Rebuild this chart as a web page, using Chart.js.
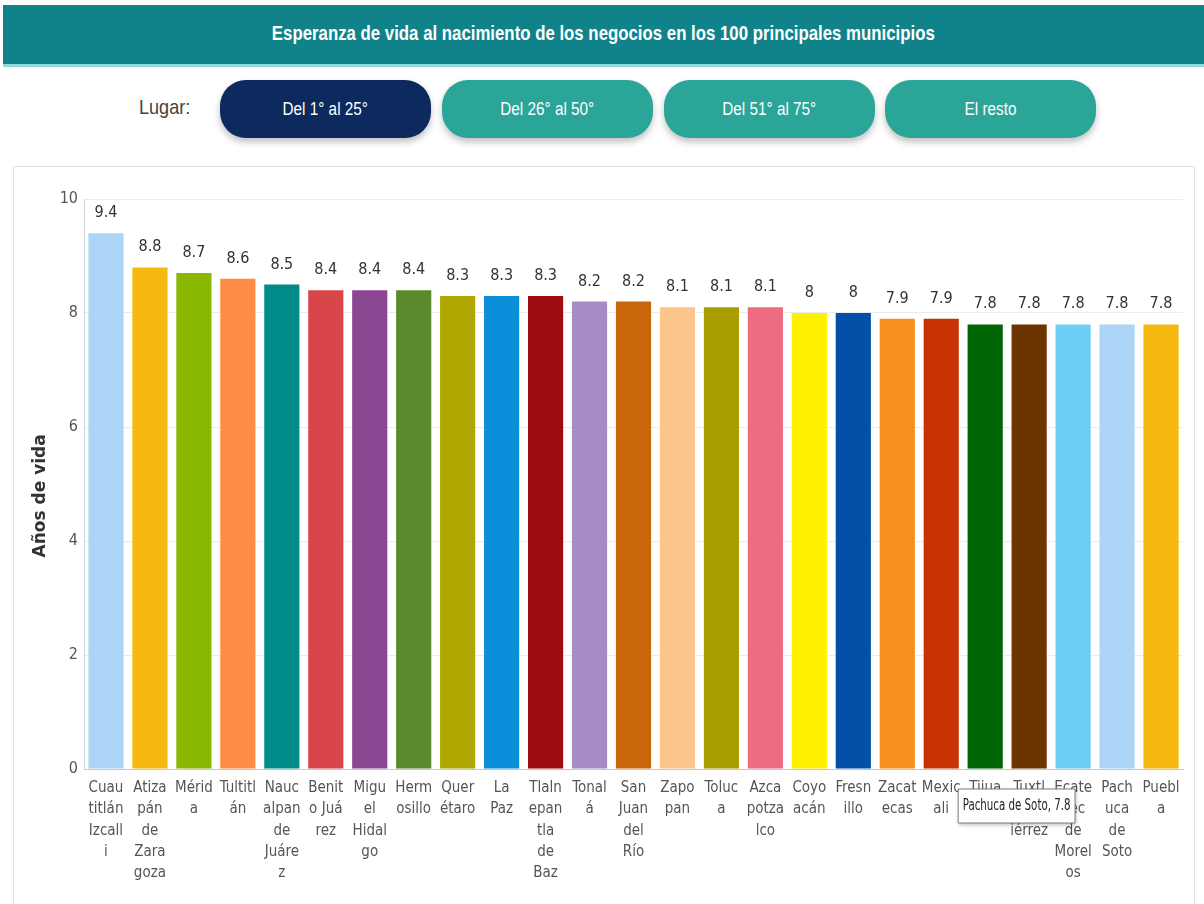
<!DOCTYPE html>
<html><head><meta charset="utf-8">
<script src="https://cdn.jsdelivr.net/npm/chart.js@4/dist/chart.umd.min.js"></script>
<style>
html,body{margin:0;padding:0;background:#fff;width:1204px;height:904px;overflow:hidden;}
#header{position:absolute;left:3px;top:5px;width:1201px;height:59px;background:#10838a;border-bottom:3px solid #93d8dc;color:#fff;text-align:center;line-height:56px;font-family:"Liberation Sans",sans-serif;font-size:21px;font-weight:bold;}
#header span{display:inline-block;transform:scaleX(0.8);transform-origin:center;white-space:nowrap;}
#lugar{position:absolute;left:139px;top:95px;font-family:"Liberation Sans",sans-serif;font-size:21px;color:#444;transform:scaleX(0.86);transform-origin:left center;}
.btn{position:absolute;top:80px;width:211px;height:58px;border-radius:26px;background:#2aa597;color:#fff;font-family:"Liberation Sans",sans-serif;font-size:18px;text-align:center;line-height:58px;box-shadow:0 4px 7px rgba(0,0,0,0.25);}
.btn span{display:inline-block;transform:scaleX(0.85);white-space:nowrap;}
.btn.active{background:#0c2a5d;}
#panel{position:absolute;left:13px;top:166px;width:1180px;height:760px;border:1px solid #e2e2e2;}
#wrap{position:absolute;left:0;top:0;width:1180px;height:742px;}
</style>
</head><body>
<div id="header"><span>Esperanza de vida al nacimiento de los negocios en los 100 principales municipios</span></div>
<div id="lugar">Lugar:</div>
<div class="btn active" style="left:220px"><span>Del 1° al 25°</span></div>
<div class="btn" style="left:442px"><span>Del 26° al 50°</span></div>
<div class="btn" style="left:664px"><span>Del 51° al 75°</span></div>
<div class="btn" style="left:885px"><span>El resto</span></div>
<div id="panel"><div id="wrap"><canvas id="c"></canvas></div></div>
<script>
const categories = [
  ["Cuau","titlán","Izcall","i"],
  ["Atiza","pán","de","Zara","goza"],
  ["Mérid","a"],
  ["Tultitl","án"],
  ["Nauc","alpan","de","Juáre","z"],
  ["Benit","o Juá","rez"],
  ["Migu","el","Hidal","go"],
  ["Herm","osillo"],
  ["Quer","étaro"],
  ["La","Paz"],
  ["Tlaln","epan","tla","de","Baz"],
  ["Tonal","á"],
  ["San","Juan","del","Río"],
  ["Zapo","pan"],
  ["Toluc","a"],
  ["Azca","potza","lco"],
  ["Coyo","acán"],
  ["Fresn","illo"],
  ["Zacat","ecas"],
  ["Mexic","ali"],
  ["Tijua","na"],
  ["Tuxtl","a Gut","iérrez"],
  ["Ecate","pec","de","Morel","os"],
  ["Pach","uca","de","Soto"],
  ["Puebl","a"]
];
const fullNames = ["Cuautitlán Izcalli","Atizapán de Zaragoza","Mérida","Tultitlán","Naucalpan de Juárez","Benito Juárez","Miguel Hidalgo","Hermosillo","Querétaro","La Paz","Tlalnepantla de Baz","Tonalá","San Juan del Río","Zapopan","Toluca","Azcapotzalco","Coyoacán","Fresnillo","Zacatecas","Mexicali","Tijuana","Tuxtla Gutiérrez","Ecatepec de Morelos","Pachuca de Soto","Puebla"];
const values = [9.4,8.8,8.7,8.6,8.5,8.4,8.4,8.4,8.3,8.3,8.3,8.2,8.2,8.1,8.1,8.1,8,8,7.9,7.9,7.8,7.8,7.8,7.8,7.8];
const barColors = ["#acd4f6","#f5b90f","#8ab700","#fe8c44","#008c88","#d9464a","#8c4792","#5a8a2b","#b0a800","#0b8fda","#9c0c10","#a68bc6","#c9650a","#fbc58b","#aa9d00","#ee6c82","#fff200","#0450a9","#f6901f","#c93202","#006605","#6b3400","#6ccef6","#acd4f6","#f5b90f"];
const yTicks = [0,2,4,6,8,10];
const highlighted = 23;

const FONT = '"DejaVu Sans Condensed","DejaVu Sans",sans-serif';

const valueLabels = {
  id: 'valueLabels',
  afterDatasetsDraw(chart) {
    const ctx = chart.ctx;
    const meta = chart.getDatasetMeta(0);
    ctx.save();
    ctx.font = '16px ' + FONT;
    ctx.fillStyle = '#333';
    ctx.textAlign = 'center';
    ctx.textBaseline = 'alphabetic';
    meta.data.forEach((bar, i) => {
      ctx.fillText(String(values[i]), bar.x, bar.y - 16);
    });
    ctx.restore();
  },
  beforeTooltipDraw(chart, args) {
    const tt = args.tooltip;
    const ctx = chart.ctx;
    const anchor = tt.x + tt.width;
    ctx.save();
    ctx.shadowColor = 'rgba(0,0,0,0.25)';
    ctx.shadowBlur = 4;
    ctx.shadowOffsetX = 1;
    ctx.shadowOffsetY = 2;
    ctx.fillStyle = '#fff';
    ctx.fillRect(tt.x + tt.width * 0.24, tt.y, tt.width * 0.76, tt.height);
    ctx.restore();
    ctx.save();
    ctx.translate(anchor, 0);
    ctx.scale(0.76, 1);
    ctx.translate(-anchor, 0);
  },
  afterTooltipDraw(chart) {
    chart.ctx.restore();
  }
};

Chart.Tooltip.positioners.belowAxis = function(items) {
  if (!items.length) return false;
  const el = items[0].element;
  const area = this.chart.chartArea;
  return { x: el.x - 42, y: area.bottom + 20, xAlign: 'right', yAlign: 'top' };
};

const chart = new Chart(document.getElementById('c'), {
  type: 'bar',
  data: {
    labels: categories,
    datasets: [{
      data: values,
      backgroundColor: barColors,
      borderWidth: 0,
      barPercentage: 0.8,
      categoryPercentage: 1.0
    }]
  },
  plugins: [valueLabels],
  options: {
    responsive: true,
    maintainAspectRatio: false,
    animation: false,
    events: [],
    layout: { padding: { left: 0, right: 11, top: 32, bottom: 0 } },
    plugins: {
      legend: { display: false },
      tooltip: {
        enabled: true,
        position: 'belowAxis',
        backgroundColor: '#ffffff',
        borderColor: '#6a6a6a',
        borderWidth: 1,
        cornerRadius: 0,
        caretSize: 0,
        caretPadding: 0,
        displayColors: false,
        bodyColor: '#222',
        bodyFont: { family: FONT, size: 15 },
        padding: { left: 6, right: 6, top: 8, bottom: 8 },
        callbacks: {
          title: () => '',
          label: (ctx) => fullNames[ctx.dataIndex] + ', ' + values[ctx.dataIndex]
        }
      }
    },
    scales: {
      x: {
        grid: { display: false, drawTicks: false },
        border: { color: '#c8c8c8', width: 1 },
        ticks: {
          autoSkip: false, maxRotation: 0, minRotation: 0,
          padding: 8,
          color: '#555',
          font: { family: FONT, size: 15, lineHeight: 1.43 }
        },
        afterFit(scale) { scale.height = 140; }
      },
      y: {
        min: 0, max: 10,
        afterBuildTicks(scale) { scale.ticks = yTicks.map(v => ({ value: v })); },
        grid: { color: '#ececec', drawTicks: false },
        border: { color: '#cfcfcf', width: 1 },
        ticks: {
          padding: 6,
          color: '#555',
          font: { family: FONT, size: 16 }
        },
        title: {
          display: true,
          text: 'Años de vida    ',
          color: '#333',
          padding: { top: 16, bottom: 4 },
          font: { family: '"DejaVu Sans","DejaVu Sans Condensed",sans-serif', size: 17, weight: 'bold' }
        },
        afterFit(scale) { scale.width = 70; }
      }
    }
  }
});
chart.tooltip.setActiveElements([{ datasetIndex: 0, index: highlighted }], { x: 0, y: 0 });
chart.update();
</script>
</body></html>
